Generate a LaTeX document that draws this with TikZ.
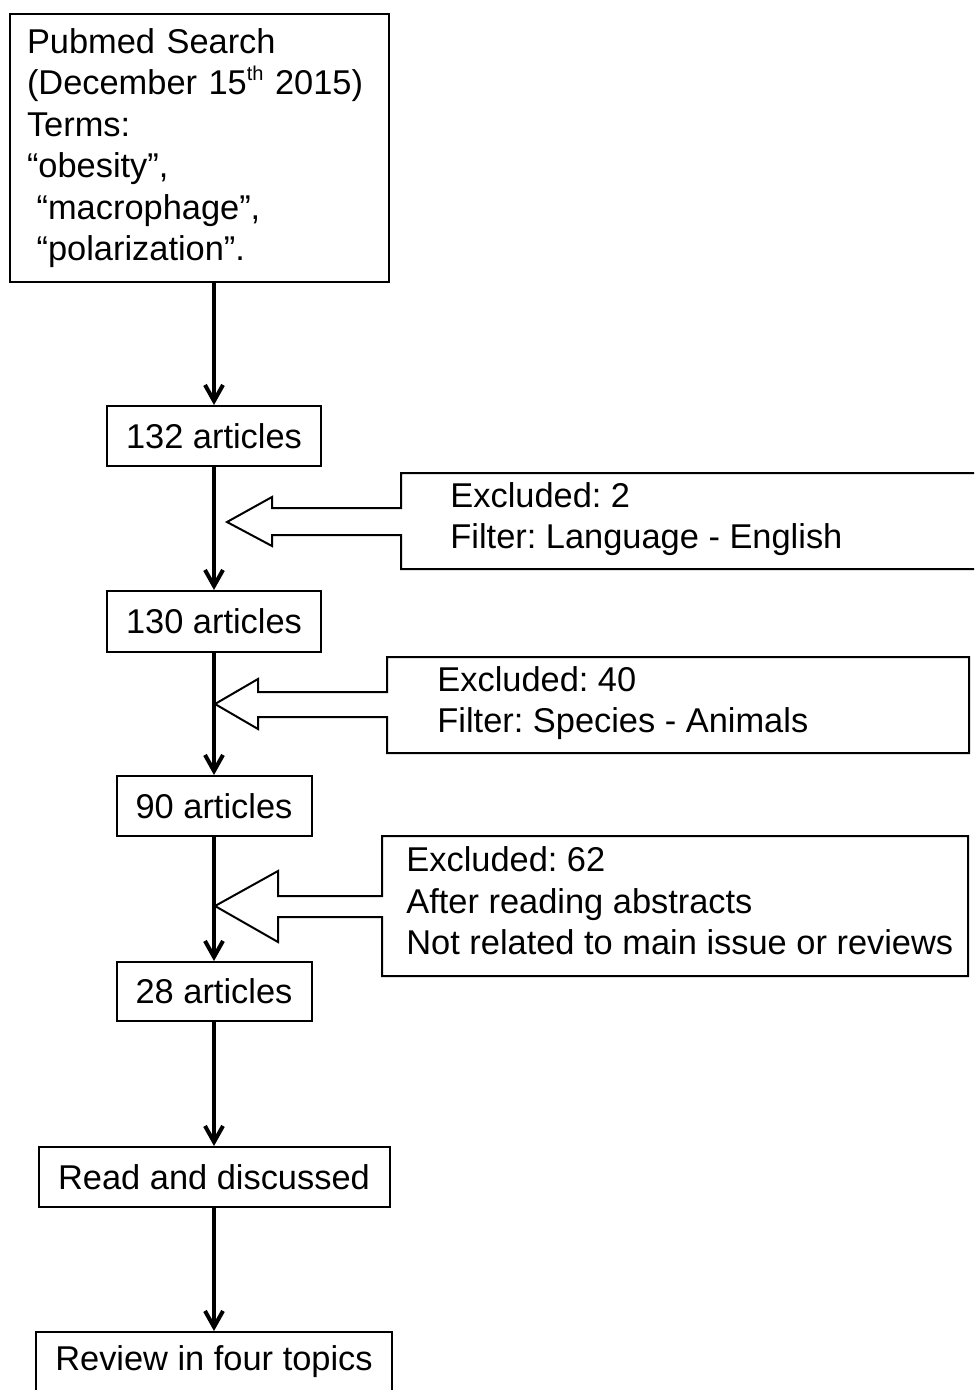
\documentclass[tikz,border=0pt]{standalone}
\usepackage{fontspec}
\setmainfont{Liberation Sans}
\usetikzlibrary{arrows.meta}
\frenchspacing

\begin{document}
\begin{tikzpicture}[x=0.5pt,y=-0.5pt,>={Straight Barb[length=8pt,width=9pt]},
  font=\fontsize{17.2}{20.75}\selectfont,
  box/.style={draw,line width=1pt,inner sep=0pt},
  flow/.style={->,line width=2pt},
  callout/.style={draw,line width=1pt,line join=miter},
  note/.style={anchor=west,align=left,inner sep=0pt}]
  \clip (0,0) rectangle (974,1390);
  % main column
  \node[box,minimum width=189.5pt,minimum height=134pt,text width=172.5pt,align=left]
    (search) at (199.5,148) {Pubmed Search\\(December 15\raisebox{.4em}{\fontsize{10}{10}\selectfont th} 2015)\\Terms:\\“obesity”,\\\hspace*{.28em}“macrophage”,\\\hspace*{.28em}“polarization”.};
  \node[box,minimum width=107pt,minimum height=30pt] (n132) at (214,436) {132 articles};
  \node[box,minimum width=107pt,minimum height=30.5pt] (n130) at (214,621.5) {130 articles};
  \node[box,minimum width=97.5pt,minimum height=30pt] (n90) at (214,806) {90 articles};
  \node[box,minimum width=97.5pt,minimum height=29.5pt] (n28) at (214,991.5) {28 articles};
  \node[box,minimum width=175.5pt,minimum height=30pt] (read) at (214,1177) {Read and discussed};
  \node[box,minimum width=178pt,minimum height=30pt] (review) at (214,1362) {Review in four topics};

  \draw[flow] (search.south -| n132.north) -- (n132.north);
  \draw[flow] (n132.south) -- (n130.north);
  \draw[flow] (n130.south) -- (n90.north);
  \draw[flow] (n90.south) -- (n28.north);
  \draw[flow] (n28.south) -- (read.north);
  \draw[flow] (read.south) -- (review.north);

  % exclusion callouts
  \draw[callout] (401,473) -- (401,508) -- (272,508) -- (272,497) -- (227,522) -- (272,546)
    -- (272,535) -- (401,535) -- (401,569) -- (980,569) -- (980,473) -- cycle;
  \node[note] (ex2) at (450,519) {Excluded: 2\\Filter: Language - English};

  \draw[callout] (387,657) -- (387,692) -- (258,692) -- (258,679) -- (215,704) -- (258,729)
    -- (258,717) -- (387,717) -- (387,753) -- (969,753) -- (969,657) -- cycle;
  \node[note] (ex40) at (437,703) {Excluded: 40\\Filter: Species - Animals};

  \draw[callout] (382,836) -- (382,896) -- (278,896) -- (278,871) -- (215,906) -- (278,942)
    -- (278,917) -- (382,917) -- (382,976) -- (968,976) -- (968,836) -- cycle;
  \node[note] (ex62) at (406,901) {Excluded: 62\\After reading abstracts\\Not related to main issue or reviews};
\end{tikzpicture}
\end{document}
